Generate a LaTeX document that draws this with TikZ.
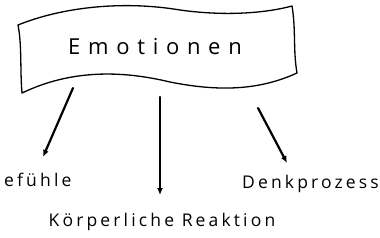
\documentclass[tikz,border=0pt]{standalone}
\usepackage{fontspec}
\setmainfont[LetterSpace=18]{Open Sans}
\usetikzlibrary{arrows.meta}

\begin{document}
\begin{tikzpicture}[x=1pt,y=-1pt,>={Latex[length=7pt,width=6pt]},line cap=round,line join=round]
        \tikzset{label/.style={inner sep=0pt,font=\fontsize{17.5}{20}\selectfont},
                 arrow/.style={->,line width=2.2pt}}
        \useasboundingbox (0,0) rectangle (380,238);
        % banner
        \draw[line width=1.3pt] (18,25) .. controls (60,8) and (120,0) .. (180,10)
            .. controls (230,17) and (270,12) .. (292,6)
            .. controls (296,30) and (293,50) .. (297,73)
            .. controls (260,90) and (220,92) .. (170,82)
            .. controls (120,70) and (70,70) .. (22,93)
            .. controls (20,70) and (22,45) .. cycle;
        \node[inner sep=0pt,font=\fontsize{22}{26}\selectfont\addfontfeature{LetterSpace=35}] (emo) at (155,47) {Emotionen};
        % labels
        \node[label,anchor=west] (gef) at (4,180) {efühle};
        \node[label] (koerper) at (162,222) {Körperliche Reaktion};
        \node[label,anchor=east] (denk) at (379,184) {Denkprozess};
        \coordinate (a1) at (73,88);
        \coordinate (a2) at (160,97);
        \coordinate (a3) at (258,108);
        \coordinate (b1) at (43,157);
        \coordinate (b2) at (160,195);
        \coordinate (b3) at (287,163);
        \draw[arrow] (a1) -- (b1);
        \draw[arrow] (a2) -- (b2);
        \draw[arrow] (a3) -- (b3);
    \end{tikzpicture}
\end{document}
